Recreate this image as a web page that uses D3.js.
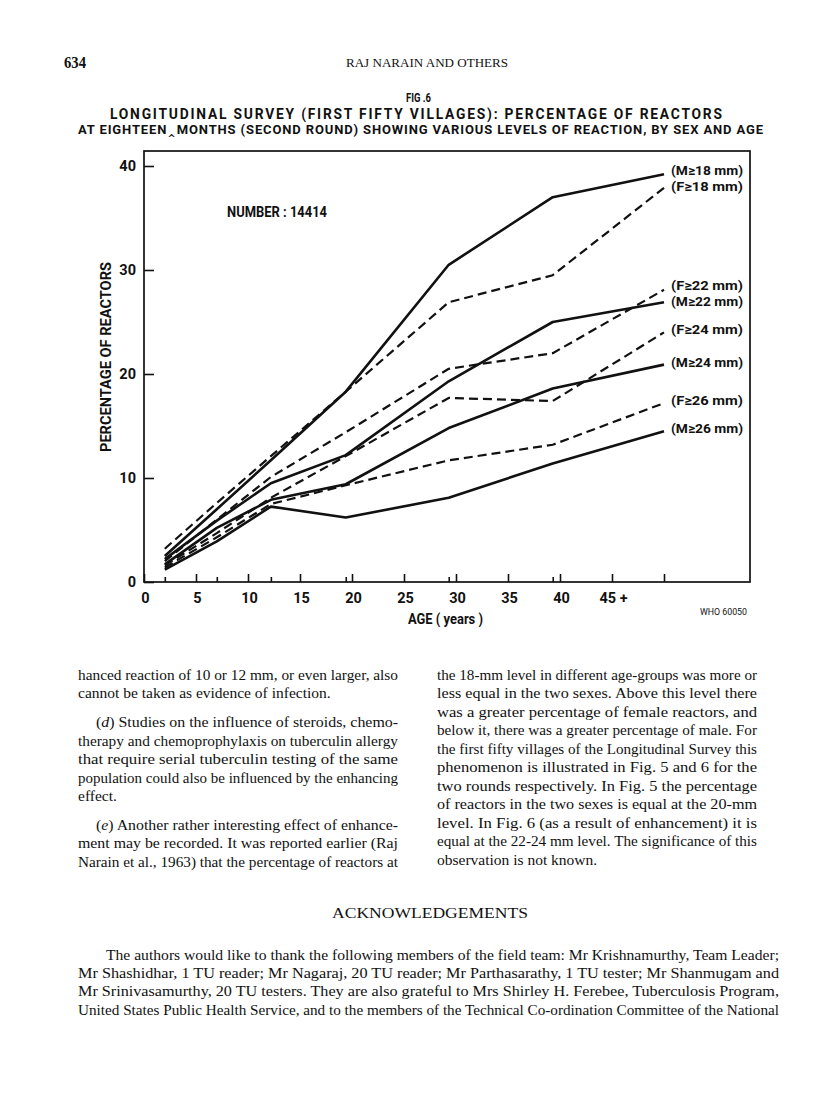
<!DOCTYPE html>
<html lang="en">
<head>
<meta charset="UTF-8">
<title>Fig 6</title>
<style>
    body { margin: 0; background: #fff; }
    .cond { font-family: Roboto, "DejaVu Sans Condensed", sans-serif; font-weight: bold; fill: #111; }
    .serif { font-family: "Liberation Serif", "DejaVu Serif", serif; fill: #111; }
</style>
</head>
<body>
<script src="https://d3js.org/d3.v7.min.js"></script>
<script>
    // age-group midpoints (years)
    const ages = [2, 7, 12.2, 19.4, 29.3, 39.3, 50];
    // percentage of reactors
    const m18 = [2.5, 7.0, 11.7, 18.3, 30.5, 37.0, 39.2];
    const f18 = [3.2, 7.6, 12.1, 18.3, 26.9, 29.5, 37.9];
    const f22 = [2.0, 6.0, 10.1, 14.4, 20.5, 22.0, 28.1];
    const m22 = [2.2, 5.9, 9.5, 12.2, 19.3, 25.0, 26.9];
    const f24 = [1.6, 4.7, 8.1, 12.1, 17.7, 17.4, 24.0];
    const m24 = [1.7, 5.2, 7.9, 9.4, 14.8, 18.6, 20.9];
    const f26 = [1.4, 4.3, 7.5, 9.3, 11.7, 13.2, 17.2];
    const m26 = [1.2, 3.9, 7.25, 6.2, 8.1, 11.4, 14.5];

    const seriesNames = ["(M\u226518 mm)", "(F\u226518 mm)", "(F\u226522 mm)", "(M\u226522 mm)",
        "(F\u226524 mm)", "(M\u226524 mm)", "(F\u226526 mm)", "(M\u226526 mm)"];
    const seriesValues = [m18, f18, f22, m22, f24, m24, f26, m26];
    const seriesDashed = [false, true, true, false, true, false, true, false];

    const xTicks = [0, 5, 10, 15, 20, 25, 30, 35, 40, 45, 50];
    const yTicks = [0, 10, 20, 30, 40];

    let w = 816, h = 1094;
    let plot = {left: 144, right: 750, top: 151, bottom: 582};

    let svg = d3.select("body").append("svg")
        .attr("width", w)
        .attr("height", h);

    let xScale = d3.scaleLinear().domain([0, 50]).range([plot.left, 664]);
    let yScale = d3.scaleLinear().domain([0, 40]).range([plot.bottom, 166]);

    // frame
    svg.append("rect")
        .attr("x", plot.left).attr("y", plot.top)
        .attr("width", plot.right - plot.left).attr("height", plot.bottom - plot.top)
        .attr("fill", "none").attr("stroke", "#111").attr("stroke-width", 1.7);

    // axes
    let xAxis = d3.axisBottom(xScale)
        .tickValues(xTicks)
        .tickSize(-8).tickSizeOuter(0).tickPadding(11)
        .tickFormat(d => d === 50 ? "" : (d === 45 ? "45 +" : d));
    let gx = svg.append("g")
        .attr("transform", "translate(0," + plot.bottom + ")")
        .call(xAxis);

    // short ticks at the age-group midpoints
    let xMinor = d3.axisBottom(xScale)
        .tickValues(ages.slice(0, 6))
        .tickSize(-5).tickSizeOuter(0).tickFormat("");
    let gxm = svg.append("g")
        .attr("transform", "translate(0," + plot.bottom + ")")
        .call(xMinor);

    let yAxis = d3.axisLeft(yScale)
        .tickValues(yTicks)
        .tickSize(-10).tickSizeOuter(0).tickPadding(8);
    let gy = svg.append("g")
        .attr("transform", "translate(" + plot.left + ",0)")
        .call(yAxis);

    [gx, gxm, gy].forEach(g => {
        g.select(".domain").remove();
        g.selectAll("line").attr("stroke", "#111").attr("stroke-width", 1.6);
        g.selectAll("text").attr("class", "cond").style("font-size", "14.5px").attr("fill", "#111");
    });
    gx.selectAll("text").attr("transform", "translate(1,0)");

    // lines
    let line = d3.line()
        .x((d, i) => xScale(ages[i]))
        .y(d => yScale(d));

    let labels = [];
    for (let i = 0; i < seriesValues.length; ++i) {
        svg.append("path")
            .attr("d", line(seriesValues[i]))
            .attr("fill", "none")
            .attr("stroke", "#111")
            .attr("stroke-width", seriesDashed[i] ? 2.2 : 2.6)
            .attr("stroke-dasharray", seriesDashed[i] ? "9,5" : null)
            .attr("stroke-linejoin", "round");

        let last = seriesValues[i][seriesValues[i].length - 1];
        labels.push({name: seriesNames[i], y: yScale(last) - 3});
    }

    // keep end labels from running into each other
    labels.sort((a, b) => a.y - b.y);
    for (let k = 1; k < labels.length; ++k) {
        let gap = labels[k].y - labels[k - 1].y;
        if (gap < 15.5) {
            let d = (15.5 - gap) / 2;
            labels[k - 1].y -= d;
            labels[k].y += d;
        }
    }
    labels.forEach(l => {
        svg.append("text")
            .attr("class", "cond")
            .attr("x", xScale(50) + 7)
            .attr("y", l.y)
            .attr("dy", "0.36em")
            .style("font-size", "13.5px")
            .attr("textLength", 72)
            .attr("lengthAdjust", "spacingAndGlyphs")
            .text(l.name);
    });

    function drawText(x, y, s, size, cls, len, anchor, adj) {
        let t = svg.append("text")
            .attr("class", cls)
            .attr("x", x).attr("y", y)
            .style("font-size", size + "px")
            .text(s);
        if (len) t.attr("textLength", len).attr("lengthAdjust", adj || "spacingAndGlyphs");
        if (anchor) t.attr("text-anchor", anchor);
        return t;
    }

    // chart annotations
    drawText(227, 217, "NUMBER : 14414", 15, "cond", 100);
    drawText(408, 624, "AGE ( years )", 15.5, "cond", 75);
    drawText(700, 615, "WHO 60050", 9, "cond", 47).style("font-weight", "normal");
    drawText(0, 0, "PERCENTAGE OF REACTORS", 15.5, "cond", 190, "middle")
        .attr("transform", "translate(111,357) rotate(-90)");

    // page header
    drawText(64, 68, "634", 16, "serif", 22).style("font-weight", "bold");
    drawText(346, 67, "RAJ NARAIN AND OTHERS", 11.5, "serif", 162);
    drawText(406, 102, "FIG .6", 12, "cond", 25);
    drawText(110, 119, "LONGITUDINAL SURVEY (FIRST FIFTY VILLAGES): PERCENTAGE OF REACTORS", 13.8, "cond", 612, null, "spacing");
    drawText(78, 134, "AT EIGHTEEN\u2038MONTHS (SECOND ROUND) SHOWING VARIOUS LEVELS OF REACTION, BY SEX AND AGE", 13, "cond", 685, null, "spacing");

    // body text, two columns
    let leftCol = [
        [78, 680, 320, "hanced reaction of 10 or 12 mm, or even larger, also"],
        [78, 698, 0, "cannot be taken as evidence of infection."],
        [96, 727, 302, ["(", "d", ") Studies on the influence of steroids, chemo-"]],
        [78, 746, 320, "therapy and chemoprophylaxis on tuberculin allergy"],
        [78, 764, 320, "that require serial tuberculin testing of the same"],
        [78, 783, 320, "population could also be influenced by the enhancing"],
        [78, 801, 0, "effect."],
        [96, 830, 302, ["(", "e", ") Another rather interesting effect of enhance-"]],
        [78, 848, 320, "ment may be recorded. It was reported earlier (Raj"],
        [78, 867, 320, "Narain et al., 1963) that the percentage of reactors at"]
    ];
    let rightCol = [
        [437, 680, 320, "the 18-mm level in different age-groups was more or"],
        [437, 698, 320, "less equal in the two sexes. Above this level there"],
        [437, 717, 320, "was a greater percentage of female reactors, and"],
        [437, 735, 320, "below it, there was a greater percentage of male. For"],
        [437, 754, 320, "the first fifty villages of the Longitudinal Survey this"],
        [437, 772, 320, "phenomenon is illustrated in Fig. 5 and 6 for the"],
        [437, 791, 320, "two rounds respectively. In Fig. 5 the percentage"],
        [437, 809, 320, "of reactors in the two sexes is equal at the 20-mm"],
        [437, 828, 320, "level. In Fig. 6 (as a result of enhancement) it is"],
        [437, 846, 320, "equal at the 22-24 mm level. The significance of this"],
        [437, 865, 0, "observation is not known."]
    ];
    let ack = [
        [106, 960, 673, "The authors would like to thank the following members of the field team: Mr Krishnamurthy, Team Leader;"],
        [78, 978, 701, "Mr Shashidhar, 1 TU reader; Mr Nagaraj, 20 TU reader; Mr Parthasarathy, 1 TU tester; Mr Shanmugam and"],
        [78, 996, 701, "Mr Srinivasamurthy, 20 TU testers. They are also grateful to Mrs Shirley H. Ferebee, Tuberculosis Program,"],
        [78, 1015, 701, "United States Public Health Service, and to the members of the Technical Co-ordination Committee of the National"]
    ];

    function bodyLine(l, size) {
        let t = svg.append("text")
            .attr("class", "serif")
            .attr("x", l[0]).attr("y", l[1])
            .style("font-size", size + "px");
        if (Array.isArray(l[3])) {
            t.append("tspan").text(l[3][0]);
            t.append("tspan").style("font-style", "italic").text(l[3][1]);
            t.append("tspan").text(l[3][2]);
        } else {
            t.text(l[3]);
        }
        if (l[2]) t.attr("textLength", l[2]).attr("lengthAdjust", "spacingAndGlyphs");
    }
    leftCol.forEach(l => bodyLine(l, 15.5));
    rightCol.forEach(l => bodyLine(l, 15.5));
    ack.forEach(l => bodyLine(l, 14));

    drawText(430, 918, "ACKNOWLEDGEMENTS", 15, "serif", 196, "middle");
</script>
</body>
</html>
